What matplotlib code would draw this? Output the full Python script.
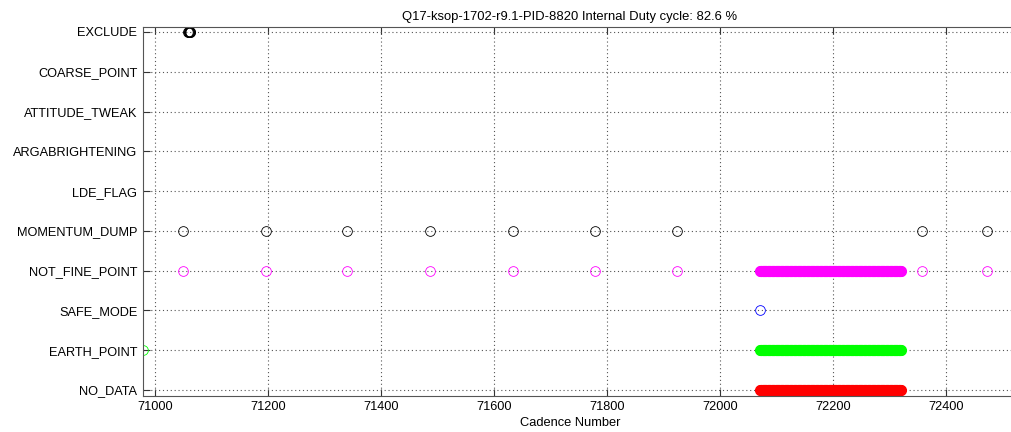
import numpy as np
import matplotlib
matplotlib.use("Agg")
import matplotlib.pyplot as plt

plt.rcParams['font.family'] = ['Liberation Sans', 'DejaVu Sans']

# flag names, bottom to top
flags = ['NO_DATA', 'EARTH_POINT', 'SAFE_MODE', 'NOT_FINE_POINT', 'MOMENTUM_DUMP',
         'LDE_FLAG', 'ARGABRIGHTENING', 'ATTITUDE_TWEAK', 'COARSE_POINT', 'EXCLUDE']

# momentum dump cadences (also flagged not fine point)
dump_cad = [71049, 71195, 71340, 71486, 71633, 71779, 71924, 72357, 72473]
# data gap (no data / earth point / not fine point)
gap_start = 72071
gap_end = 72320
safe_cad = [72070]
earth_cad = [70978]
exclude_cad = [71058, 71059, 71060, 71061, 71062]

title = 'Q17-ksop-1702-r9.1-PID-8820 Internal Duty cycle: 82.6 %'

fig = plt.figure(figsize=(10.11, 4.32), dpi=100)
ax = fig.add_axes([143/1011, 36/432, 1 - 143/1011, (396 - 27)/432])

gap = np.arange(gap_start, gap_end + 1)

def row(name):
    return flags.index(name)

ms = 7
# hollow markers
ax.plot(dump_cad, [row('MOMENTUM_DUMP')] * len(dump_cad), 'o', mfc='none', mec='k', ms=ms, mew=0.6)
ax.plot(dump_cad, [row('NOT_FINE_POINT')] * len(dump_cad), 'o', mfc='none', mec='#ff00ff', ms=ms, mew=0.6)
ax.plot(safe_cad, [row('SAFE_MODE')] * len(safe_cad), 'o', mfc='none', mec='b', ms=ms, mew=0.6)
ax.plot(earth_cad, [row('EARTH_POINT')] * len(earth_cad), 'o', mfc='none', mec='#00ff00', ms=ms, mew=0.6)
ax.plot(exclude_cad, [row('EXCLUDE')] * len(exclude_cad), 'o', mfc='none', mec='k', ms=ms, mew=0.8)

# gap rows
ax.plot(gap, [row('NOT_FINE_POINT')] * len(gap), 'o', color='#ff00ff', ms=ms)
ax.plot(gap, [row('EARTH_POINT')] * len(gap), 'o', color='#00ff00', ms=ms)
ax.plot(gap, [row('NO_DATA')] * len(gap), 'o', color='#ff0000', ms=ms)

ax.set_xlim(70978, 72515)
ax.set_ylim(-0.15, 9.125)
ax.set_yticks(range(len(flags)))
ax.set_yticklabels(flags)
ax.set_xticks([71000, 71200, 71400, 71600, 71800, 72000, 72200, 72400])
ax.set_xlabel('Cadence Number', fontsize=9.3)
ax.xaxis.set_label_coords((570 - 143) / (1011 - 143), -0.058)
ax.set_title(title, fontsize=9.4, pad=5, x=(570 - 143) / (1011 - 143))

ax.grid(True, linestyle=(0, (1, 2.5)), color='#555555', linewidth=0.8)
ax.set_axisbelow(True)
ax.tick_params(direction='in', top=True, length=5, labelsize=9.2, color='#333333')
ax.tick_params(axis='y', pad=4)
for s in ['left', 'top', 'bottom']:
    ax.spines[s].set_color('#555555')
ax.spines['right'].set_visible(False)

fig.savefig('out.png', dpi=100)
